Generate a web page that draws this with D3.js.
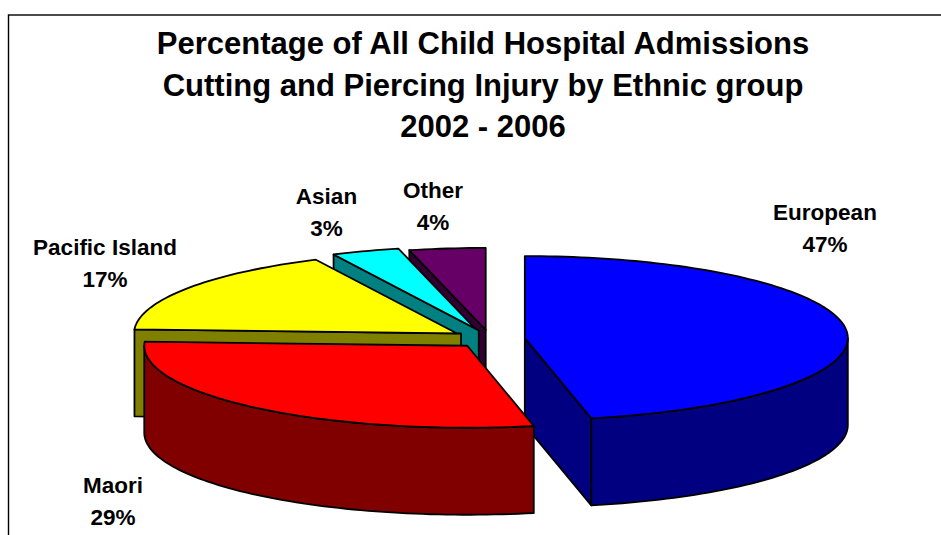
<!DOCTYPE html>
<html>
<head>
<meta charset="utf-8">
<title>Child Hospital Admissions</title>
<script src="https://cdn.jsdelivr.net/npm/d3@7"></script>
<style>
    html, body { margin: 0; padding: 0; background: #fff; overflow: hidden; }
    text { font-family: "Liberation Sans", Arial, sans-serif; font-weight: bold; fill: #000; text-anchor: middle; }
</style>
</head>
<body>
<script>
// Chart data
const categories = ["European", "Maori", "Pacific Island", "Asian", "Other"];
const shares = [46.7, 29.1, 17.0, 3.4, 3.8];
const titleLines = [
    "Percentage of All Child Hospital Admissions",
    "Cutting and Piercing Injury by Ethnic group",
    "2002 - 2006"
];

// Colours for each slice
const topColors = ["#0000ff", "#ff0000", "#ffff00", "#00ffff", "#660066"];
const sideColors = ["#000080", "#800000", "#808000", "#008080", "#330033"];

// how far each slice is pulled out of the pie
const explode = [35, 35, 39.5, 45, 36];
// the cut faces of these run a little past the slice tip
const cutOvershoot = [0, 0, 4, 4, 0];
// label centres, same order as categories
const labelX = [825, 113, 105, 326.5, 433];
const labelY = [220, 493, 255, 204, 198];

const width = 941, height = 535;
const centerX = 490, centerY = 339;
const radiusX = 323, radiusY = 82, depth = 87;

const svg = d3.select("body").append("svg")
    .attr("width", width)
    .attr("height", height)
    .style("display", "block");

// frame runs off the right and bottom of the page
svg.append("rect")
    .attr("x", 8.5)
    .attr("y", 15)
    .attr("width", width + 20)
    .attr("height", height + 20)
    .attr("fill", "none")
    .attr("stroke", "#000")
    .attr("stroke-width", 1.4);

svg.append("g").selectAll("text")
    .data(titleLines)
    .enter()
    .append("text")
    .attr("x", 483)
    .attr("y", (d, i) => 54 + i * 41.5)
    .attr("font-size", 31)
    .text(d => d);

// unit circle to tilted ellipse
const sx = d3.scaleLinear().domain([-1, 1]).range([-radiusX, radiusX]);
const sy = d3.scaleLinear().domain([-1, 1]).range([-radiusY, radiusY]);
const line = d3.line();

const slices = d3.pie().sort(null).value(d => d)(shares);

function rimPoint(angle) {
    return [sx(Math.sin(angle)), sy(-Math.cos(angle))];
}

function rim(a0, a1) {
    const steps = Math.max(2, Math.ceil((a1 - a0) * 40));
    return d3.range(steps + 1).map(i => rimPoint(a0 + (a1 - a0) * i / steps));
}

function lower(points) {
    return points.map(p => [p[0], p[1] + depth]);
}

function drawSlice(slice) {
    const i = slice.index;
    const mid = (slice.startAngle + slice.endAngle) / 2;
    // explosion follows the same tilt as the pie
    const g = svg.append("g")
        .attr("transform", `translate(${centerX + Math.sin(mid) * explode[i]},${centerY - Math.cos(mid) * explode[i] * radiusY / radiusX})`)
        .attr("stroke", "#000")
        .attr("stroke-width", 1.8)
        .attr("stroke-linejoin", "round");

    const apex = [0, 0];
    const sides = [];

    // cut faces, only those turned to the viewer
    if (Math.sin(slice.startAngle) < -1e-6) {
        const outer = rimPoint(slice.startAngle);
        const past = [-outer[0] / Math.abs(outer[0]) * cutOvershoot[i], -outer[1] / Math.abs(outer[0]) * cutOvershoot[i]];
        const edge = [past, outer];
        sides.push(edge.concat(lower(edge).reverse()));
    }
    if (Math.sin(slice.endAngle) > 1e-6) {
        const edge = [apex, rimPoint(slice.endAngle)];
        sides.push(edge.concat(lower(edge).reverse()));
    }

    // outer wall for the front half of the rim
    const w0 = Math.max(slice.startAngle, Math.PI / 2);
    const w1 = Math.min(slice.endAngle, Math.PI * 3 / 2);
    if (w1 > w0) {
        const edge = rim(w0, w1);
        sides.push(edge.concat(lower(edge).reverse()));
    }

    sides.forEach(points => {
        g.append("path")
            .attr("d", line(points) + "Z")
            .attr("fill", sideColors[i]);
    });

    g.append("path")
        .attr("d", line([apex].concat(rim(slice.startAngle, slice.endAngle))) + "Z")
        .attr("fill", topColors[i]);
}

// back to front
[4, 3, 2, 0, 1].forEach(i => drawSlice(slices[i]));

// labels
const pct = d3.format(".0f");
categories.forEach((name, i) => {
    const label = svg.append("text")
        .attr("font-size", 22.5);
    label.append("tspan")
        .attr("x", labelX[i])
        .attr("y", labelY[i])
        .text(name);
    label.append("tspan")
        .attr("x", labelX[i])
        .attr("y", labelY[i] + 31.5)
        .text(pct(shares[i]) + "%");
});
</script>
</body>
</html>
